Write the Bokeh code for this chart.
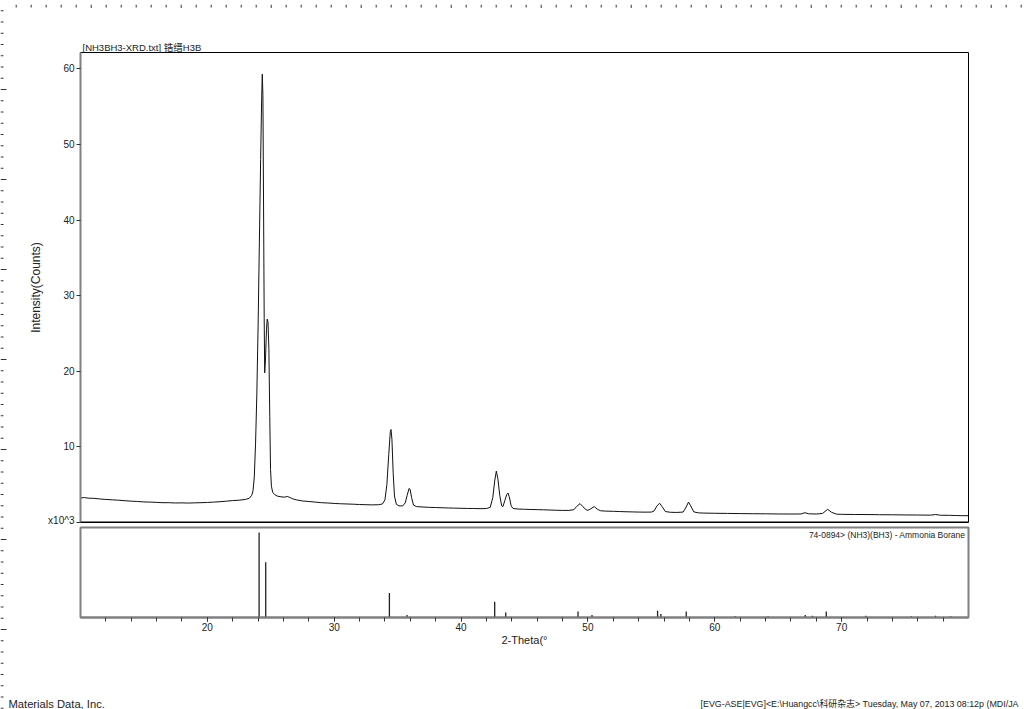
from bokeh.plotting import figure
from bokeh.layouts import column, row
from bokeh.models import Range1d, FixedTicker, Label, Span
from bokeh.embed import file_html
from bokeh.resources import INLINE

# ---- measured XRD pattern (2-theta in degrees, intensity in 10^3 counts) ----
two_theta = [10.0, 10.3, 10.6, 11.0, 11.5, 12.0, 12.5, 13.0, 13.5, 14.0, 14.5, 15.0, 15.5, 16.0,
             16.5, 17.0, 17.5, 18.0, 18.5, 19.0, 19.5, 20.0, 20.5, 21.0, 21.5, 22.0, 22.5, 23.0,
             23.3, 23.5, 23.6, 23.7, 23.8, 23.9, 24.0, 24.1, 24.2, 24.28, 24.33, 24.38, 24.43,
             24.48, 24.52, 24.58, 24.66, 24.72, 24.78, 24.85, 24.92, 24.98, 25.05, 25.15, 25.3,
             25.5, 25.8, 26.1, 26.3, 26.45, 26.7, 27.0, 27.5, 28.0, 28.5, 29.0, 29.5, 30.0, 30.5,
             31.0, 31.5, 32.0, 32.5, 33.0, 33.5, 33.8, 34.0, 34.15, 34.3, 34.42, 34.48, 34.55,
             34.65, 34.75, 34.9, 35.1, 35.4, 35.6, 35.75, 35.9, 35.98, 36.1, 36.25, 36.5, 37.0,
             37.5, 38.0, 38.5, 39.0, 39.5, 40.0, 40.5, 41.0, 41.5, 42.0, 42.3, 42.5, 42.65, 42.78,
             42.9, 43.05, 43.2, 43.3, 43.45, 43.6, 43.7, 43.8, 43.95, 44.1, 44.5, 45.0, 45.5,
             46.0, 46.5, 47.0, 47.5, 48.0, 48.5, 48.9, 49.1, 49.38, 49.6, 49.85, 50.0, 50.2,
             50.5, 50.75, 51.0, 51.5, 52.0, 52.5, 53.0, 53.5, 54.0, 54.5, 55.0, 55.2, 55.45,
             55.65, 55.85, 56.1, 56.5, 57.0, 57.5, 57.7, 57.93, 58.1, 58.35, 58.7, 59.0, 60.0,
             61.0, 62.0, 63.0, 64.0, 65.0, 66.0, 66.8, 67.1, 67.4, 68.0, 68.5, 68.9, 69.2, 69.6,
             70.0, 71.0, 72.0, 73.0, 74.0, 75.0, 76.0, 77.0, 77.4, 77.8, 78.5, 79.0, 79.5, 80.0]
intensity = [3.25, 3.30, 3.22, 3.20, 3.12, 3.05, 3.00, 2.95, 2.88, 2.82, 2.78, 2.72, 2.70, 2.66,
             2.62, 2.62, 2.58, 2.60, 2.57, 2.60, 2.62, 2.65, 2.70, 2.75, 2.82, 2.90, 2.95, 3.05,
             3.20, 3.6, 4.2, 6.0, 10.5, 17.0, 26.0, 37.0, 48.0, 56.0, 59.3, 56.5, 42.0,
             27.0, 19.8, 21.5, 25.5, 26.9, 26.5, 23.0, 14.0, 7.0, 4.8, 4.0, 3.7,
             3.5, 3.4, 3.35, 3.45, 3.35, 3.15, 3.0, 2.85, 2.78, 2.70, 2.62, 2.58, 2.52, 2.48,
             2.45, 2.42, 2.38, 2.35, 2.33, 2.35, 2.45, 3.0, 5.0, 9.0, 12.0, 12.3, 11.0,
             6.5, 3.5, 2.4, 2.2, 2.2, 2.6, 3.6, 4.5, 4.4, 3.3, 2.3, 2.1, 2.05,
             2.0, 1.98, 1.95, 1.92, 1.90, 1.88, 1.86, 1.85, 1.83, 1.85, 2.0, 3.3, 5.5, 6.8,
             5.8, 3.6, 2.2, 2.1, 2.9, 3.7, 3.9, 3.4, 2.2, 1.85, 1.78, 1.75, 1.72,
             1.70, 1.68, 1.65, 1.62, 1.60, 1.60, 1.70, 2.1, 2.5, 2.1, 1.7, 1.6, 1.8,
             2.1, 1.75, 1.55, 1.50, 1.48, 1.45, 1.42, 1.40, 1.38, 1.37, 1.38, 1.5, 2.2,
             2.55, 2.1, 1.45, 1.35, 1.33, 1.38, 1.9, 2.7, 2.2, 1.4, 1.28, 1.25, 1.22,
             1.20, 1.18, 1.16, 1.15, 1.13, 1.12, 1.13, 1.3, 1.15, 1.12, 1.2, 1.75, 1.35, 1.1,
             1.08, 1.06, 1.05, 1.03, 1.02, 1.00, 0.99, 0.97, 1.05, 0.96, 0.95, 0.92, 0.90, 0.90]

# ---- reference card 74-0894 (stick positions, relative intensity %) ----
ref_pos = [24.08, 24.60, 34.35, 35.74, 42.65, 43.52, 49.22, 50.32, 55.49, 55.75, 57.75,
           61.6, 64.2, 67.13, 67.7, 68.79, 71.9, 75.5, 77.4, 78.6]
ref_int = [100, 65, 29, 3, 18.5, 6, 7, 3, 8, 4, 7,
           1.5, 1.5, 3, 2, 7, 2, 1.5, 2, 1.5]

y_ticks = [0, 10, 20, 30, 40, 50, 60]
x_ticks = [20, 30, 40, 50, 60, 70]
x_minor = list(range(12, 80, 2))

title_text = "[NH3BH3-XRD.txt] 锆缙H3B"
card_text = "74-0894> (NH3)(BH3) - Ammonia Borane"
footer_left = "Materials Data, Inc."
footer_right = "[EVG-ASE|EVG]<E:\\Huangcc\\科研杂志> Tuesday, May 07, 2013 08:12p (MDI/JA"
y_label = "Intensity(Counts)"
x_label = "2-Theta(°"

# page-ruler decoration: spacing in px, long mark every n-th
ruler_top_step, ruler_top_long = 15, 6
ruler_left_step, ruler_left_long = 11.25, 8

FONT = "Liberation Sans, 'Noto Sans CJK SC'"
TXT = "#222222"
PAGE_W, PAGE_H = 1024, 709
RL = 8            # ruler strip width/height
W = PAGE_W - RL
H1 = 517
H2 = 155
H3 = PAGE_H - RL - H1 - H2


def blank(width, height, xr, yr):
    f = figure(width=width, height=height, x_range=xr, y_range=yr,
               output_backend="svg", toolbar_location=None, min_border=0,
               frame_align=False)
    f.axis.visible = False
    f.grid.visible = False
    f.outline_line_color = None
    return f


# ---------------- rulers ----------------
p_top = blank(W, RL, Range1d(RL, PAGE_W), Range1d(RL, 0))
tx = [ruler_top_step * k + 0.7 for k in range(int(PAGE_W / ruler_top_step) + 1)]
tl = [5 if k % ruler_top_long == 0 else 3 for k in range(len(tx))]
p_top.segment(x0=tx, y0=[0] * len(tx), x1=tx, y1=tl, line_color="#333333", line_width=1)

p_left = blank(RL, PAGE_H, Range1d(0, RL), Range1d(PAGE_H, 0))
ly = [ruler_left_step * k - 1 for k in range(1, int(PAGE_H / ruler_left_step) + 1)]
ll = [6 if k % ruler_left_long == 0 else 3 for k in range(1, len(ly) + 1)]
p_left.segment(x0=[0] * len(ly), y0=ly, x1=ll, y1=ly, line_color="#333333", line_width=1)

x_range = Range1d(10, 80)

# ---------------- upper panel: measured pattern ----------------
p1 = figure(width=W, height=H1, x_range=x_range, y_range=Range1d(0, 62.17),
            output_backend="svg", toolbar_location=None,
            min_border_left=80 - RL, min_border_right=56, min_border_top=52 - RL,
            min_border_bottom=3)
p1.line(two_theta, intensity, line_color="#111111", line_width=1)
p1.grid.visible = False
p1.xaxis.visible = False
p1.outline_line_color = "black"
p1.outline_line_width = 1

p1.title.text = title_text
p1.title.align = "left"
p1.title.text_font = FONT
p1.title.text_font_size = "9.5px"
p1.title.text_font_style = "normal"
p1.title.text_color = TXT
p1.title.standoff = 0
p1.title.offset = 2

ya = p1.yaxis[0]
ya.ticker = FixedTicker(ticks=y_ticks, minor_ticks=[])
ya.major_label_overrides = {0: "x10^3"}
ya.axis_line_color = "#808080"
ya.axis_line_width = 2
ya.major_tick_line_color = "#333333"
ya.minor_tick_line_color = None
ya.major_tick_out = 4
ya.major_tick_in = 0
ya.major_label_standoff = 2
ya.major_label_text_font = FONT
ya.major_label_text_font_size = "10px"
ya.major_label_text_color = TXT
ya.axis_label = y_label
ya.axis_label_text_font = FONT
ya.axis_label_text_font_size = "12px"
ya.axis_label_text_font_style = "normal"
ya.axis_label_text_color = TXT
ya.axis_label_standoff = 2

p1.add_layout(Span(location=0, dimension="width", line_color="black", line_width=2))

# ---------------- lower panel: reference sticks ----------------
p2 = figure(width=W, height=H2, x_range=x_range, y_range=Range1d(0, 106),
            output_backend="svg", toolbar_location=None,
            min_border_left=80 - RL, min_border_right=56, min_border_top=2,
            min_border_bottom=H2 - 92)
p2.segment(x0=ref_pos, y0=[0] * len(ref_pos), x1=ref_pos, y1=ref_int,
           line_color="#222222", line_width=1.3)
p2.grid.visible = False
p2.yaxis.visible = False
p2.outline_line_color = "#808080"
p2.outline_line_width = 2

xa = p2.xaxis[0]
xa.ticker = FixedTicker(ticks=x_ticks, minor_ticks=x_minor)
xa.axis_line_color = "#808080"
xa.axis_line_width = 2
xa.major_tick_line_color = "#333333"
xa.minor_tick_line_color = "#333333"
xa.major_tick_out = 4
xa.major_tick_in = 0
xa.minor_tick_out = 4
xa.minor_tick_in = 0
xa.major_label_standoff = 1
xa.major_label_text_font = FONT
xa.major_label_text_font_size = "10px"
xa.major_label_text_color = TXT
xa.axis_label = x_label
xa.axis_label_text_font = FONT
xa.axis_label_text_font_size = "11px"
xa.axis_label_text_font_style = "normal"
xa.axis_label_text_color = TXT
xa.axis_label_standoff = 0

p2.add_layout(Label(x=80, y=97, x_offset=-3, text=card_text, text_align="right",
                    text_baseline="middle", text_font=FONT, text_font_size="8.5px",
                    text_color=TXT))

# ---------------- footer strip ----------------
p3 = blank(W, H3, Range1d(RL, PAGE_W), Range1d(PAGE_H, PAGE_H - H3))
p3.add_layout(Label(x=RL, y=703, text=footer_left, text_align="left",
                    text_baseline="middle", text_font=FONT, text_font_size="11.2px",
                    text_color=TXT))
p3.add_layout(Label(x=700, y=703, text=footer_right, text_align="left",
                    text_baseline="middle", text_font=FONT, text_font_size="8.9px",
                    text_color=TXT))

layout = row(p_left, column(p_top, p1, p2, p3))
open("out.html", "w").write(file_html(layout, INLINE))
